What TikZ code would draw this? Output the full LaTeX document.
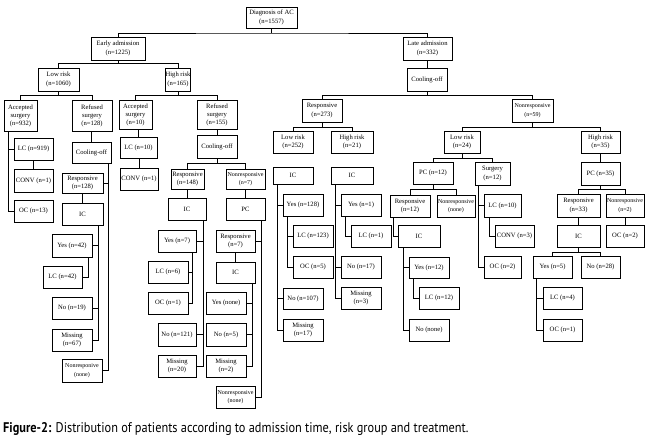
\documentclass[tikz,border=0pt]{standalone}
\usepackage{fontspec}
\setmainfont{Liberation Serif}
\newfontfamily\capfont{PT Sans}
\usetikzlibrary{calc}
\tikzset{
  box/.style={draw=black,line width=1pt,fill=white,inner sep=0pt,align=center,
    font=\fontsize{6.6}{8.3}\selectfont},
  sm/.style={font=\fontsize{6}{8.3}\selectfont},
  ln/.style={draw=black,line width=1pt},
}
\newcommand{\bx}[7][]{\node[box,#1,minimum width={(#5-#3)*1pt},minimum height={(#6-#4)*1pt}] (#2) at ({(#3+#5)/2},{(#4+#6)/2}) {#7};}
\newcommand{\tree}[4]{\draw[ln] (#1.south) -- ++(0,#4) coordinate (bus); \draw[ln] (#2.north) |- (bus) -| (#3.north);}
\newcommand{\vl}[2]{\draw[ln] (#2.north) -- (#2.north |- #1.south);}
\begin{document}
\begin{tikzpicture}[x=1pt,y=-1pt]
\fill[white] (0,0) rectangle (650,440);
\useasboundingbox (0,0) rectangle (650,440);
% top
\bx{dx}{246}{7}{297}{28}{Diagnosis of AC\\(n=1557)}
\bx[font=\fontsize{6.6}{9.5}\selectfont]{early}{91}{37}{145}{60}{Early admission\\(n=1225)}
\bx{late}{403}{37}{452}{60}{Late admission\\(n=332)}
\bx{cool0}{407}{68}{447}{91}{Cooling-off}
\tree{dx}{early}{late}{4.5}
\vl{late}{cool0}
% early
\bx{lr1}{38}{68}{79}{91}{Low risk\\(n=1060)}
\bx{hr1}{166}{68}{190}{91}{High risk\\(n=165)}
\tree{early}{lr1}{hr1}{3.3}
\bx[font=\fontsize{6.6}{8}\selectfont]{acc932}{4}{100}{37}{131}{Accepted\\surgery\\(n=932)}
\bx[font=\fontsize{6.6}{8}\selectfont]{ref128}{72}{100}{112}{131}{Refused\\surgery\\(n=128)}
\tree{lr1}{acc932}{ref128}{4}
\bx[font=\fontsize{6.6}{8}\selectfont]{acc10}{119}{100}{152}{129}{Accepted\\surgery\\(n=10)}
\bx[font=\fontsize{6.6}{8}\selectfont]{ref155}{197}{100}{237}{129}{Refused\\surgery\\(n=155)}
\tree{hr1}{acc10}{ref155}{4}
% accepted 932
\bx{lc919}{14}{138}{53}{160}{LC (n=919)}
\bx{conv1a}{14}{169}{53}{192}{CONV (n=1)}
\bx{oc13}{14}{200}{53}{222}{OC (n=13)}
\draw[ln] ([xshift=5pt]acc932.south west) |- (lc919.west);
\draw[ln] ([xshift=5pt]acc932.south west) |- (oc13.west);
\vl{lc919}{conv1a}
% refused 128
\bx{cool128}{72}{142}{111}{163}{Cooling-off}
\vl{ref128}{cool128}
\bx{resp128}{62}{173}{103}{193}{Responsive\\(n=128)}
\bx{ic128}{62}{203}{103}{225}{IC}
\vl{resp128}{ic128}
\bx{yes42}{52}{234}{92}{257}{Yes (n=42)}
\bx{lc42}{43}{266}{82}{288}{LC (n=42)}
\bx{no19}{52}{297}{92}{319}{No (n=19)}
\bx{miss67}{52}{329}{92}{351}{Missing\\(n=67)}
\bx[sm]{nrnone1}{62}{359}{102}{382}{Nonresponive\\(none)}
\draw[ln] ([xshift=-3pt]cool128.south east) |- (resp128.east);
\draw[ln] ([xshift=-3pt]cool128.south east) |- (nrnone1.east);
\draw[ln] ([xshift=-5pt]ic128.south east) |- (yes42.east);
\draw[ln] ([xshift=-5pt]ic128.south east) |- (no19.east);
\draw[ln] ([xshift=-5pt]ic128.south east) |- (miss67.east);
\draw[ln] ([xshift=-4pt]yes42.south east) |- (lc42.east);
% accepted 10
\bx{lc10}{120}{137}{157}{158}{LC (n=10)}
\bx{conv1b}{120}{168}{158}{190}{CONV (n=1)}
\vl{acc10}{lc10}
\vl{lc10}{conv1b}
% refused 155
\bx{cool155}{197}{135}{237}{158}{Cooling-off}
\vl{ref155}{cool155}
\bx{resp148}{171}{169}{204}{189}{Responsive\\(n=148)}
\bx[sm]{nonresp7}{226}{169}{265}{189}{Nonresponsive\\(n=7)}
\tree{cool155}{resp148}{nonresp7}{5}
\bx{ic148}{168}{198}{206}{220}{IC}
\bx{pc7}{226}{198}{265}{220}{PC}
\vl{resp148}{ic148}
\vl{nonresp7}{pc7}
\bx{yes7}{158}{230}{196}{252}{Yes (n=7)}
\bx{lc6}{148}{261}{188}{283}{LC (n=6)}
\bx{oc1}{148}{292}{188}{314}{OC (n=1)}
\bx{no121}{158}{323}{196}{346}{No (n=121)}
\bx{miss20}{158}{355}{196}{377}{Missing\\(n=20)}
\draw[ln] ([xshift=-3pt]ic148.south east) |- (yes7.east);
\draw[ln] ([xshift=-3pt]ic148.south east) |- (no121.east);
\draw[ln] ([xshift=-3pt]ic148.south east) |- (miss20.east);
\draw[ln] ([xshift=-4pt]yes7.south east) |- (lc6.east);
\draw[ln] ([xshift=-4pt]yes7.south east) |- (oc1.east);
\bx{resp7}{216}{230}{255}{252}{Responsive\\(n=7)}
\bx{ic7}{216}{262}{255}{283}{IC}
\vl{resp7}{ic7}
\bx{yesnone}{206}{292}{246}{314}{Yes (none)}
\bx{no5}{206}{323}{246}{346}{No (n=5)}
\bx{miss2}{206}{355}{246}{377}{Missing\\(n=2)}
\bx[sm]{nrnone2}{216}{386}{255}{408}{Nonresponsive\\(none)}
\draw[ln] ([xshift=-4pt]pc7.south east) |- (resp7.east);
\draw[ln] ([xshift=-4pt]pc7.south east) |- (nrnone2.east);
\draw[ln] ([xshift=-3pt]ic7.south east) |- (yesnone.east);
\draw[ln] ([xshift=-3pt]ic7.south east) |- (no5.east);
\draw[ln] ([xshift=-3pt]ic7.south east) |- (miss2.east);
% late
\bx{resp273}{302}{99}{342}{122}{Responsive\\(n=273)}
\bx[sm]{nonresp59}{512}{99}{553}{122}{Nonresponsive\\(n=59)}
\tree{cool0}{resp273}{nonresp59}{4}
\bx{lr252}{273}{131}{313}{153}{Low risk\\(n=252)}
\bx{hr21}{331}{131}{373}{153}{High risk\\(n=21)}
\tree{resp273}{lr252}{hr21}{4.7}
\bx{ic252}{273}{167}{313}{184}{IC}
\bx{yes128}{283}{194}{323}{216}{Yes (n=128)}
\bx{lc123}{293}{225}{333}{247}{LC (n=123)}
\bx{oc5}{293}{256}{333}{278}{OC (n=5)}
\bx{no107}{283}{288}{323}{309}{No (n=107)}
\bx{miss17}{283}{319}{323}{341}{Missing\\(n=17)}
\draw[ln] ([xshift=5pt]ic252.south west) |- (yes128.west);
\draw[ln] ([xshift=5pt]ic252.south west) |- (no107.west);
\draw[ln] ([xshift=5pt]ic252.south west) |- (miss17.west);
\draw[ln] ([xshift=5pt]yes128.south west) |- (lc123.west);
\draw[ln] ([xshift=5pt]yes128.south west) |- (oc5.west);
\bx{ic21}{331}{167}{373}{184}{IC}
\bx{yes1}{341}{194}{381}{216}{Yes (n=1)}
\bx{lc1}{351}{225}{391}{247}{LC (n=1)}
\bx{no17}{341}{256}{381}{278}{No (n=17)}
\bx{miss3}{341}{287}{381}{309}{Missing\\(n=3)}
\draw[ln] ([xshift=5pt]ic21.south west) |- (yes1.west);
\draw[ln] ([xshift=5pt]ic21.south west) |- (no17.west);
\draw[ln] ([xshift=5pt]ic21.south west) |- (miss3.west);
\draw[ln] ([xshift=5pt]yes1.south west) |- (lc1.west);
% nonresponsive 59
\bx{lr24}{444}{131}{480}{153}{Low risk\\(n=24)}
\bx{hr35}{581}{131}{620}{153}{High risk\\(n=35)}
\tree{nonresp59}{lr24}{hr35}{5}
\bx{pc12}{413}{162}{453}{184}{PC (n=12)}
\bx{surg12}{475}{162}{510}{185}{Surgery\\(n=12)}
\tree{lr24}{pc12}{surg12}{5}
\bx{resp12}{390}{195}{430}{217}{Responsive\\(n=12)}
\bx[sm]{nrnone3}{437}{195}{475}{217}{Nonresponsive\\(none)}
\tree{pc12}{resp12}{nrnone3}{5}
\bx{ic12}{398}{225}{440}{247}{IC}
\draw[ln] ([xshift=4pt]resp12.south west) |- (ic12.west);
\bx{yes12}{409}{257}{449}{278}{Yes (n=12)}
\bx{lc12}{419}{287}{459}{309}{LC (n=12)}
\bx{nonone}{409}{319}{449}{341}{No (none)}
\draw[ln] ([xshift=6pt]ic12.south west) |- (yes12.west);
\draw[ln] ([xshift=6pt]ic12.south west) |- (nonone.west);
\draw[ln] ([xshift=5pt]yes12.south west) |- (lc12.west);
\bx{lc10b}{484}{194}{521}{217}{LC (n=10)}
\bx{conv3}{495}{225}{534}{247}{CONV (n=3)}
\bx{oc2a}{484}{256}{521}{278}{OC (n=2)}
\draw[ln] ([xshift=4pt]surg12.south west) |- (lc10b.west);
\draw[ln] ([xshift=4pt]surg12.south west) |- (oc2a.west);
\draw[ln] ([xshift=6pt]lc10b.south west) |- (conv3.west);
\bx{pc35}{581}{162}{620}{185}{PC (n=35)}
\vl{hr35}{pc35}
\bx{resp33}{557}{194}{600}{217}{Responsive\\(n=33)}
\bx[sm]{nr2}{606}{194}{644}{217}{Nonresponsive\\(n=2)}
\tree{pc35}{resp33}{nr2}{4.3}
\bx{ic33}{557}{225}{600}{247}{IC}
\bx{oc2b}{606}{225}{644}{247}{OC (n=2)}
\vl{resp33}{ic33}
\vl{nr2}{oc2b}
\bx{yes5}{533}{256}{572}{278}{Yes (n=5)}
\bx{no28}{581}{256}{620}{278}{No (n=28)}
\tree{ic33}{yes5}{no28}{5}
\bx{lc4}{543}{287}{582}{309}{LC (n=4)}
\bx{oc1b}{543}{319}{582}{341}{OC (n=1)}
\draw[ln] ([xshift=4pt]yes5.south west) |- (lc4.west);
\draw[ln] ([xshift=4pt]yes5.south west) |- (oc1b.west);
% caption
\node[anchor=base west,inner sep=0pt] (cap) at (3,432) {\scalebox{0.88}[1]{\capfont\fontsize{14}{16}\selectfont\textbf{Figure-2:} Distribution of patients according to admission time, risk group and treatment.}};
\end{tikzpicture}
\end{document}
